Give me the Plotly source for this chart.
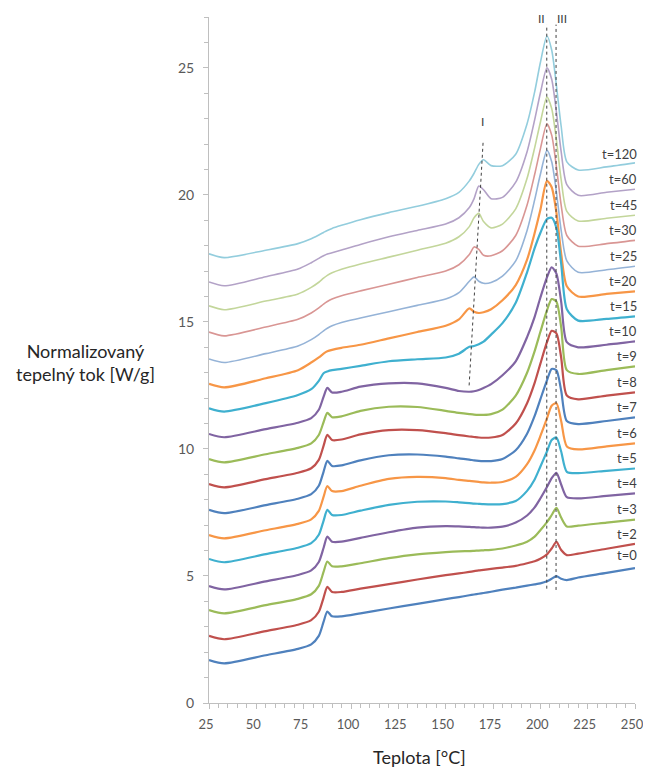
import plotly.graph_objects as go

# Temperature grid (°C) at which curve values were read
TEMP = [25, 33, 55, 72, 79, 83, 85.5, 87.5, 90, 95, 105, 120, 135, 150, 157, 162.5, 165, 167.5, 170, 174,
        180, 187, 193, 197, 200, 203.5, 206, 208.5, 211, 214, 220, 235, 250]

HF_T0 = [1.69, 1.56, 1.88, 2.13, 2.31, 2.64, 3.19, 3.6, 3.41, 3.41, 3.53, 3.72, 3.9, 4.09, 4.17, 4.24, 4.27, 4.3, 4.33, 4.38,
         4.46, 4.54, 4.62, 4.67, 4.71, 4.79, 4.89, 4.99, 4.89, 4.84, 4.94, 5.12, 5.31]
HF_T2 = [2.64, 2.51, 2.83, 3.08, 3.26, 3.59, 4.14, 4.57, 4.37, 4.37, 4.5, 4.68, 4.86, 5.03, 5.1, 5.16, 5.19, 5.22, 5.24, 5.28,
         5.33, 5.4, 5.5, 5.58, 5.68, 5.85, 6.08, 6.34, 6.02, 5.82, 5.88, 6.07, 6.26]
HF_T3 = [3.66, 3.53, 3.85, 4.1, 4.28, 4.61, 5.16, 5.57, 5.38, 5.38, 5.5, 5.7, 5.85, 5.94, 5.97, 5.98, 5.99, 6.0, 6.01, 6.03,
         6.08, 6.2, 6.35, 6.55, 6.8, 7.12, 7.4, 7.68, 7.3, 6.95, 6.98, 7.1, 7.22]
HF_T4 = [4.6, 4.47, 4.79, 5.04, 5.22, 5.55, 6.1, 6.55, 6.35, 6.35, 6.5, 6.72, 6.9, 6.96, 6.95, 6.93, 6.92, 6.91, 6.9, 6.9,
         6.94, 7.1, 7.38, 7.7, 8.05, 8.5, 8.85, 9.06, 8.6, 8.1, 8.05, 8.15, 8.25]
HF_T5 = [5.67, 5.54, 5.86, 6.11, 6.29, 6.62, 7.17, 7.6, 7.4, 7.4, 7.57, 7.8, 7.92, 7.93, 7.9, 7.87, 7.85, 7.84, 7.83, 7.82,
         7.83, 7.95, 8.35, 8.8, 9.3, 9.9, 10.35, 10.45, 9.9, 9.1, 9.05, 9.14, 9.23]
HF_T6 = [6.61, 6.48, 6.8, 7.05, 7.23, 7.56, 8.11, 8.54, 8.34, 8.34, 8.55, 8.82, 8.9, 8.85, 8.78, 8.74, 8.72, 8.7, 8.68, 8.67,
         8.7, 8.9, 9.4, 9.95, 10.5, 11.2, 11.7, 11.8, 11.1, 10.1, 9.98, 10.1, 10.22]
HF_T7 = [7.6, 7.47, 7.79, 8.04, 8.22, 8.55, 9.1, 9.53, 9.33, 9.35, 9.55, 9.75, 9.78, 9.7, 9.63, 9.58, 9.55, 9.53, 9.52, 9.52,
         9.6, 9.95, 10.6, 11.3, 11.95, 12.7, 13.15, 13.1, 12.3, 11.1, 10.98, 11.1, 11.24]
HF_T8 = [8.62, 8.49, 8.81, 9.06, 9.24, 9.57, 10.12, 10.55, 10.35, 10.37, 10.57, 10.74, 10.74, 10.62, 10.54, 10.49, 10.47, 10.45, 10.44, 10.45,
         10.55, 11.0, 11.8, 12.6, 13.35, 14.2, 14.65, 14.55, 13.6, 12.1, 11.95, 12.1, 12.23]
HF_T9 = [9.6, 9.47, 9.79, 10.04, 10.22, 10.55, 11.05, 11.42, 11.25, 11.28, 11.5, 11.66, 11.65, 11.5, 11.42, 11.37, 11.35, 11.34, 11.34, 11.37,
         11.55, 12.1, 13.0, 13.85, 14.6, 15.45, 15.9, 15.8, 14.8, 13.1, 12.95, 13.1, 13.25]
HF_T10 = [10.59, 10.46, 10.78, 11.03, 11.21, 11.54, 12.05, 12.4, 12.22, 12.25, 12.45, 12.58, 12.58, 12.4, 12.28, 12.25, 12.27, 12.32, 12.4, 12.55,
          12.9, 13.45, 14.4, 15.2, 15.95, 16.75, 17.15, 16.9, 15.8, 14.2, 14.0, 14.1, 14.23]
HF_T15 = [11.6, 11.47, 11.8, 12.12, 12.35, 12.68, 12.98, 13.05, 13.1, 13.15, 13.27, 13.45, 13.53, 13.6, 13.75, 14.02, 14.05, 14.12, 14.22, 14.5,
          14.95, 15.75, 16.95, 17.9, 18.5, 19.05, 19.1, 18.7, 17.3, 15.5, 15.05, 15.12, 15.22]
HF_T20 = [12.56, 12.42, 12.78, 13.1, 13.4, 13.6, 13.75, 13.84, 13.9, 13.98, 14.1, 14.35, 14.6, 14.85, 15.1, 15.53, 15.4, 15.35, 15.38, 15.5,
          15.85, 16.45, 17.45, 18.5, 19.4, 20.55, 20.3, 19.3, 17.7, 16.4, 16.0, 16.1, 16.2]
HF_T25 = [13.54, 13.4, 13.75, 14.05, 14.3, 14.5, 14.65, 14.75, 14.85, 14.98, 15.15, 15.4, 15.65, 15.9, 16.15, 16.6, 16.77, 16.6, 16.52, 16.55,
          16.8, 17.4, 18.6, 19.8, 20.8, 21.75, 21.3, 20.1, 18.6, 17.4, 16.95, 17.05, 17.19]
HF_T30 = [14.6, 14.45, 14.8, 15.1, 15.35, 15.55, 15.7, 15.8, 15.9, 16.03, 16.22, 16.48, 16.75, 17.0, 17.25, 17.65, 17.95, 17.85, 17.62, 17.6,
          17.8, 18.4, 19.6, 20.8, 21.8, 22.8, 22.35, 21.1, 19.6, 18.4, 17.98, 18.08, 18.21]
HF_T45 = [15.63, 15.48, 15.82, 16.1, 16.36, 16.56, 16.72, 16.83, 16.93, 17.07, 17.28, 17.55, 17.82, 18.1, 18.35, 18.75, 19.1, 19.27, 18.95, 18.7,
          18.85, 19.45, 20.65, 21.85, 22.85, 23.85, 23.4, 22.15, 20.6, 19.35, 18.97, 19.08, 19.2]
HF_T60 = [16.57, 16.42, 16.78, 17.08, 17.33, 17.5, 17.6, 17.67, 17.72, 17.83, 18.05, 18.35, 18.6, 18.85, 19.1, 19.5, 19.85, 20.35, 20.2, 19.85,
          19.9, 20.5, 21.7, 22.95, 24.0, 25.0, 24.55, 23.25, 21.7, 20.4, 19.98, 20.1, 20.22]
HF_T120 = [17.68, 17.53, 17.82, 18.08, 18.27, 18.42, 18.52, 18.6, 18.68, 18.8, 19.02, 19.3, 19.55, 19.85, 20.1, 20.55, 20.85, 21.2, 21.38, 21.15,
           21.15, 21.6, 22.8, 24.05, 25.2, 26.25, 25.7, 24.3, 22.7, 21.3, 20.98, 21.1, 21.26]

SERIES_NAMES = ["t=0", "t=2", "t=3", "t=4", "t=5", "t=6", "t=7", "t=8", "t=9", "t=10",
                "t=15", "t=20", "t=25", "t=30", "t=45", "t=60", "t=120"]
SERIES_VALUES = [HF_T0, HF_T2, HF_T3, HF_T4, HF_T5, HF_T6, HF_T7, HF_T8, HF_T9, HF_T10,
                 HF_T15, HF_T20, HF_T25, HF_T30, HF_T45, HF_T60, HF_T120]
# y position (W/g) of each curve's label at the right side
LABEL_Y = [5.83, 6.65, 7.64, 8.66, 9.65, 10.63, 11.65, 12.64, 13.66, 14.65,
           15.63, 16.61, 17.6, 18.62, 19.61, 20.63, 21.61]

# Marker lines for peaks I, II, III
PEAK_I_X = [162.4, 169.8]
PEAK_I_Y = [12.5, 22.1]
PEAK_II_X = [203.4, 203.4]
PEAK_II_Y = [4.5, 26.7]
PEAK_III_X = [208.3, 208.3]
PEAK_III_Y = [4.45, 26.7]

COLORS = ["#4f81bd", "#c0504d", "#9bbb59", "#8064a2", "#3fb0cf", "#f79646",
          "#4f81bd", "#c0504d", "#9bbb59", "#8064a2", "#3fb0cf", "#f79646",
          "#95b3d7", "#d99694", "#c3d69b", "#b3a2c7", "#93cddd"]

FONT = "Lato, 'Open Sans', sans-serif"

fig = go.Figure()
n = len(SERIES_NAMES)
for i in reversed(range(n)):
    width = 2.2 if i < 12 else 1.6
    fig.add_trace(go.Scatter(
        x=TEMP, y=SERIES_VALUES[i], mode="lines", name=SERIES_NAMES[i],
        line=dict(color=COLORS[i], width=width, shape="spline", smoothing=0.7),
        showlegend=False, hoverinfo="skip"))

for xs, ys in [(PEAK_I_X, PEAK_I_Y), (PEAK_II_X, PEAK_II_Y), (PEAK_III_X, PEAK_III_Y)]:
    fig.add_trace(go.Scatter(x=xs, y=ys, mode="lines",
                             line=dict(color="#404040", width=1, dash="3px,3px"),
                             showlegend=False, hoverinfo="skip"))

annotations = []
for name, ly in zip(SERIES_NAMES, LABEL_Y):
    annotations.append(dict(x=250, y=ly, xref="x", yref="y", text=name, showarrow=False,
                            xanchor="right", yanchor="middle", xshift=4,
                            font=dict(family=FONT, size=13, color="#404040")))
for txt, ax, ay in [("I", 169.7, 22.9), ("II", 200.6, 26.95), ("III", 211.6, 26.95)]:
    annotations.append(dict(x=ax, y=ay, xref="x", yref="y", text=txt, showarrow=False,
                            xanchor="center", yanchor="middle",
                            font=dict(family=FONT, size=12, color="#404040")))
annotations.append(dict(x=-0.291, y=0.497, xref="paper", yref="paper",
                        text="Normalizovaný<br>tepelný tok [W/g]", showarrow=False,
                        xanchor="center", yanchor="middle", align="center",
                        font=dict(family=FONT, size=18, color="#262626")))
annotations.append(dict(x=0.495, y=-0.0787, xref="paper", yref="paper",
                        text="Teplota [°C]", showarrow=False,
                        xanchor="center", yanchor="middle",
                        font=dict(family=FONT, size=18, color="#262626")))

# page body has an 8px margin; the figure is sized so the page fits the window exactly
fig.update_layout(
    width=635, height=760,
    margin=dict(l=201, r=8, t=9, b=65, autoexpand=False),
    plot_bgcolor="white", paper_bgcolor="white",
    annotations=annotations,
    xaxis=dict(range=[25, 250], tickmode="linear", tick0=25, dtick=25, automargin=False,
               showgrid=False, zeroline=False, showline=True, linecolor="#bfbfbf", linewidth=1,
               ticks="outside", ticklen=5, tickcolor="#bfbfbf",
               minor=dict(ticks="outside", dtick=5, tick0=25, ticklen=4, tickcolor="#bfbfbf"),
               ticklabelstandoff=4, ticklabelshift=-3, ticklabeloverflow="allow",
               tickfont=dict(family=FONT, size=13, color="#595959")),
    yaxis=dict(range=[0, 27], tickmode="linear", tick0=0, dtick=5, automargin=False,
               showgrid=False, zeroline=False, showline=True, linecolor="#bfbfbf", linewidth=1,
               ticks="outside", ticklen=5, tickcolor="#bfbfbf",
               minor=dict(ticks="outside", dtick=1, ticklen=4, tickcolor="#bfbfbf"),
               ticklabelstandoff=6,
               tickfont=dict(family=FONT, size=14, color="#595959")),
)

fig.write_html("out.html")
